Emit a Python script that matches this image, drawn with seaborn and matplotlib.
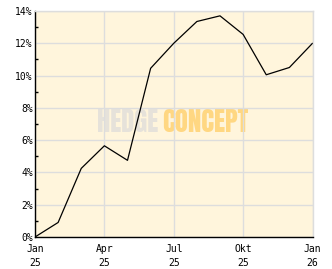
import matplotlib
matplotlib.use("Agg")
import matplotlib.pyplot as plt
import seaborn as sns
import pandas as pd
from matplotlib.ticker import MultipleLocator, FuncFormatter
from matplotlib import font_manager as fm

# Data
months = list(range(13))  # Jan 25 .. Jan 26
performance = [0.0, 0.9, 4.25, 5.65, 4.75, 10.45, 12.0, 13.35, 13.7, 12.55, 10.05, 10.5, 12.0]
tick_positions = [0, 3, 6, 9, 12]
tick_labels = ["Jan\n25", "Apr\n25", "Jul\n25", "Okt\n25", "Jan\n26"]
y_ticks = [0, 2, 4, 6, 8, 10, 12, 14]

df = pd.DataFrame({"month": months, "perf": performance})

sns.set_style("white")
plt.rcParams["font.family"] = ["DejaVu Sans Mono", "DejaVu Sans"]

W, H = 332, 269
fig = plt.figure(figsize=(W / 100, H / 100), dpi=100)
fig.patch.set_facecolor("white")
ax = fig.add_axes([35 / W, (H - 237) / H, (312.5 - 35) / W, (237 - 11) / H])

bg = fig.add_axes(ax.get_position())
bg.set_facecolor("#FFF5DC")
bg.set_zorder(0)
bg.set_xticks([]); bg.set_yticks([])
for s in bg.spines.values():
    s.set_visible(False)
ax.set_zorder(1)
ax.patch.set_alpha(0.0)

names = {f.name for f in fm.fontManager.ttflist}
cond = [n for n in ["Anton", "Oswald", "Bebas Neue", "Barlow Condensed", "Archivo Narrow"] if n in names]
wm_family = cond[:1] + ["DejaVu Sans"]

# watermark
renderer = fig.canvas.get_renderer()
for word, color, cx, width in [("HEDGE", "#E6E2DA", 127.5, 61), ("CONCEPT", "#FFD782", 205, 86)]:
    t = fig.text(cx / W, (H - 132) / H, word, color=color, fontsize=20,
                 fontweight="bold", family=wm_family,
                 ha="center", va="baseline", zorder=0.5)
    w = t.get_window_extent(renderer).width
    t.set_fontsize(20 * width / w)

sns.lineplot(data=df, x="month", y="perf", ax=ax, color="black", linewidth=0.9)

ax.set_xlim(0, 12)
ax.set_ylim(0, 14)
ax.set_xticks(tick_positions)
ax.set_xticklabels(tick_labels, linespacing=1.45)
ax.set_yticks(y_ticks)
ax.yaxis.set_major_formatter(FuncFormatter(lambda v, p: f"{int(v)}%"))
ax.yaxis.set_minor_locator(MultipleLocator(1))
ax.set_xlabel("")
ax.set_ylabel("")

ax.grid(True, which="major", color="#DDDDDD", linewidth=1)
ax.set_axisbelow(True)

ax.tick_params(axis="both", which="major", direction="in", length=3, width=1,
               color="black", labelsize=7, labelcolor="black")
ax.tick_params(axis="x", pad=5)
ax.tick_params(axis="y", pad=1.5)
ax.tick_params(axis="y", which="minor", direction="in", length=2.3, width=1, color="black", left=True)

for s in ["left", "bottom"]:
    ax.spines[s].set_color("black")
    ax.spines[s].set_linewidth(1)
for s in ["top", "right"]:
    ax.spines[s].set_color("#DDDDDD")
    ax.spines[s].set_linewidth(1)

fig.savefig("out.png", dpi=100)
